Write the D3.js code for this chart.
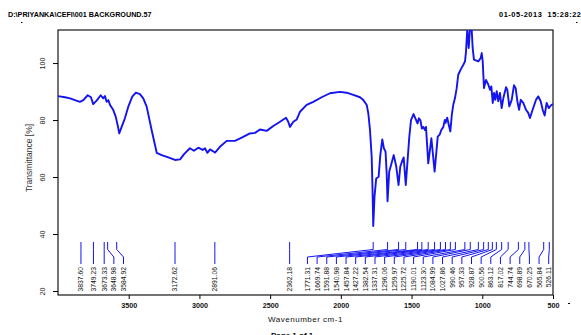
<!DOCTYPE html>
<html>
<head>
<meta charset="utf-8">
<script src="https://cdn.jsdelivr.net/npm/d3@7/dist/d3.min.js"></script>
<style>
  body { margin: 0; background: #fff; }
  svg { display: block; font-family: "Liberation Sans", Arial, sans-serif; }
</style>
</head>
<body>
<svg id="chart"></svg>
<script>
// spectrum (cm-1, %T)
const wavenumbers = [4000, 3951, 3915, 3880, 3845, 3821, 3790, 3767, 3751, 3727, 3698, 3680, 3668, 3656, 3644, 3632,
  3609, 3592, 3578, 3567, 3550, 3527, 3503, 3475, 3449, 3421, 3397, 3373, 3338, 3302, 3267, 3220, 3173, 3137, 3107,
  3067, 3039, 3008, 2977, 2961, 2944, 2925, 2890, 2855, 2807, 2749, 2701, 2643, 2607, 2572, 2524, 2478, 2430, 2388,
  2372, 2360, 2336, 2312, 2289, 2242, 2195, 2136, 2077, 2006, 1959, 1912, 1865, 1841, 1817, 1806, 1794, 1782, 1776,
  1771, 1762, 1750, 1733, 1721, 1707, 1696, 1684, 1676, 1670, 1658, 1645, 1626, 1608, 1592, 1580, 1568, 1556, 1549,
  1541, 1528, 1516, 1504, 1486, 1470, 1458, 1448, 1438, 1427, 1417, 1405, 1398, 1382, 1360, 1337, 1315, 1300, 1290,
  1276, 1265, 1260, 1248, 1238, 1226, 1215, 1205, 1193, 1181, 1170, 1153, 1134, 1122, 1115, 1106, 1096, 1087, 1075,
  1068, 1059, 1028, 1011, 1004, 997, 988, 974, 957, 945, 936, 926, 917, 908, 898, 887, 875, 863, 851, 832, 823, 809,
  792, 776, 764, 752, 740, 728, 710, 691, 675, 663, 644, 620, 604, 587, 573, 559, 545, 530, 514, 500];
const transmittance = [88.4, 88.0, 87.6, 87.0, 86.4, 87.0, 88.7, 88.0, 85.6, 86.8, 88.7, 87.6, 88.4, 86.4, 87.0, 85.3,
  83.5, 81.2, 78.2, 75.3, 77.6, 80.6, 84.7, 88.2, 89.6, 89.1, 87.6, 84.7, 76.5, 68.5, 67.7, 66.9, 66.0, 66.2, 68.1,
  70.1, 69.2, 70.3, 69.5, 70.1, 68.5, 69.7, 68.6, 70.6, 72.7, 72.7, 73.8, 75.3, 75.5, 76.7, 76.2, 77.9, 79.4, 80.8,
  79.4, 77.6, 79.4, 80.2, 82.9, 85.3, 86.4, 88.0, 89.4, 89.9, 89.6, 88.8, 88.0, 87.0, 85.3, 82.4, 76.5, 67.1, 55.4,
  42.8, 53.1, 59.5, 60.1, 67.7, 73.2, 70.1, 68.9, 61.3, 51.5, 61.9, 64.2, 67.7, 63.6, 57.2, 63.6, 65.4, 66.9, 62.5,
  57.2, 66.0, 74.1, 80.0, 82.1, 80.2, 78.8, 80.6, 80.0, 77.0, 77.6, 76.5, 77.6, 64.8, 73.6, 61.9, 74.2, 75.0, 76.5,
  77.5, 80.0, 79.0, 80.8, 78.5, 76.0, 82.0, 85.4, 87.7, 91.2, 95.9, 97.7, 99.4, 100.6, 104.1, 112.0, 105.3, 112.0, 112.0,
  105.3, 101.2, 100.6, 101.8, 103.5, 100.6, 91.2, 94.1, 92.4, 90.6, 91.8, 86.0, 89.5, 87.1, 90.1, 86.6, 89.5, 84.2,
  87.7, 91.5, 90.6, 84.8, 87.1, 92.2, 91.2, 86.6, 83.6, 87.1, 86.0, 83.6, 82.5, 80.7, 83.6, 87.1, 88.3, 86.6, 83.6,
  81.6, 86.0, 84.2, 85.2, 85.6];
const peaks = [3837.60, 3749.23, 3673.33, 3648.98, 3584.92, 3172.62, 2891.06, 2362.18, 1771.31, 1669.74, 1591.88,
  1540.98, 1457.84, 1427.22, 1382.54, 1337.31, 1296.06, 1259.97, 1225.72, 1190.01, 1123.30, 1084.99, 1027.86, 990.46,
  957.33, 928.87, 900.56, 863.12, 817.02, 744.74, 698.89, 670.25, 565.84, 526.11];
const xTicks = [3500, 3000, 2500, 2000, 1500, 1000, 500];
const yTicks = [20, 40, 60, 80, 100];

const width = 581, height = 335;
const margin = { top: 30, right: 28, bottom: 40, left: 58 };
const blue = '#1414f0';

const svg = d3.select('#chart').attr('width', width).attr('height', height);

const x = d3.scaleLinear().domain([4000, 500]).range([margin.left, width - margin.right]);
const y = d3.scaleLinear().domain([18.6, 111.6]).range([height - margin.bottom, margin.top]);

// header
svg.append('text').attr('x', 8).attr('y', 17).attr('font-size', 7.2).attr('font-weight', 'bold')
  .text('D:\\PRIYANKA\\CEFI\\001 BACKGROUND.57');
svg.append('text').attr('x', 499).attr('y', 17).attr('font-size', 7.4).attr('font-weight', 'bold')
  .attr('letter-spacing', 0.55).attr('xml:space', 'preserve').text('01-05-2013  15:28:22');
svg.append('rect').attr('x', 21).attr('y', 22).attr('width', 1.5).attr('height', 1).attr('fill', '#000');
svg.append('rect').attr('x', 576).attr('y', 22).attr('width', 1.5).attr('height', 1).attr('fill', '#000');
svg.append('rect').attr('x', 568).attr('y', 303).attr('width', 2).attr('height', 1).attr('fill', '#000');

// axes
const xAxis = svg.append('g').attr('transform', `translate(0,${height - margin.bottom})`)
  .call(d3.axisBottom(x).tickValues(xTicks).tickSize(4).tickFormat(d3.format('d')));
xAxis.select('.domain').remove();
xAxis.selectAll('text').attr('font-size', 7.2).attr('font-weight', 'bold').attr('dy', '0.9em').attr('fill', '#111');

const yAxis = svg.append('g').attr('transform', `translate(${margin.left},0)`)
  .call(d3.axisLeft(y).tickValues(yTicks).tickSize(5));
yAxis.select('.domain').remove();
yAxis.selectAll('text').attr('font-size', 7.2).attr('fill', '#222')
  .attr('x', null).attr('dy', null).attr('text-anchor', 'middle')
  .attr('transform', 'translate(-13.5,0) rotate(-90)');

svg.append('rect')
  .attr('x', margin.left).attr('y', margin.top)
  .attr('width', width - margin.left - margin.right).attr('height', height - margin.top - margin.bottom)
  .attr('fill', 'none').attr('stroke', '#000').attr('stroke-width', 1.1);

svg.append('text').attr('x', (margin.left + width - margin.right) / 2).attr('y', 322)
  .attr('text-anchor', 'middle').attr('font-size', 8).attr('letter-spacing', 0.5).attr('fill', '#111')
  .text('Wavenumber cm-1');
svg.append('text').attr('transform', 'translate(32,158) rotate(-90)')
  .attr('text-anchor', 'middle').attr('font-size', 8.5).attr('fill', '#333')
  .text('Transmittance [%]');
// page footer sits on the bottom edge, as in the printout
svg.append('text').attr('x', 271).attr('y', 337.5).attr('font-size', 8).attr('font-weight', 'bold')
  .text('Page 1 of 1');

// spectrum
svg.append('clipPath').attr('id', 'plot').append('rect')
  .attr('x', margin.left).attr('y', margin.top)
  .attr('width', width - margin.left - margin.right).attr('height', height - margin.top - margin.bottom);

const spectrum = wavenumbers.map((w, i) => ({ w: w, t: transmittance[i] }));
svg.append('path').datum(spectrum)
  .attr('clip-path', 'url(#plot)')
  .attr('fill', 'none').attr('stroke', blue).attr('stroke-width', 1.9).attr('stroke-linejoin', 'round')
  .attr('d', d3.line().x(d => x(d.w)).y(d => y(d.t)));

// peak labels, pushed apart so they do not overlap
const gap = 9.65, rightLimit = 548.7;
const px = peaks.map(p => x(p));
const lx = px.slice();
for (let i = 1; i < lx.length; i++) lx[i] = Math.max(lx[i], lx[i - 1] + gap);
lx[lx.length - 1] = Math.min(lx[lx.length - 1], rightLimit);
for (let i = lx.length - 2; i >= 0; i--) lx[i] = Math.min(lx[i], lx[i + 1] - gap);

const g = svg.append('g');
peaks.forEach((p, i) => {
  g.append('path')
    .attr('d', `M${px[i]},242 L${px[i]},249.5 L${lx[i]},257 L${lx[i]},264`)
    .attr('fill', 'none').attr('stroke', blue).attr('stroke-width', 1);
  g.append('text')
    .attr('transform', `translate(${lx[i]},267) rotate(-90)`)
    .attr('text-anchor', 'end').attr('dy', '0.36em')
    .attr('font-size', 6.8).attr('fill', '#111')
    .text(p.toFixed(2));
});
</script>
</body>
</html>
